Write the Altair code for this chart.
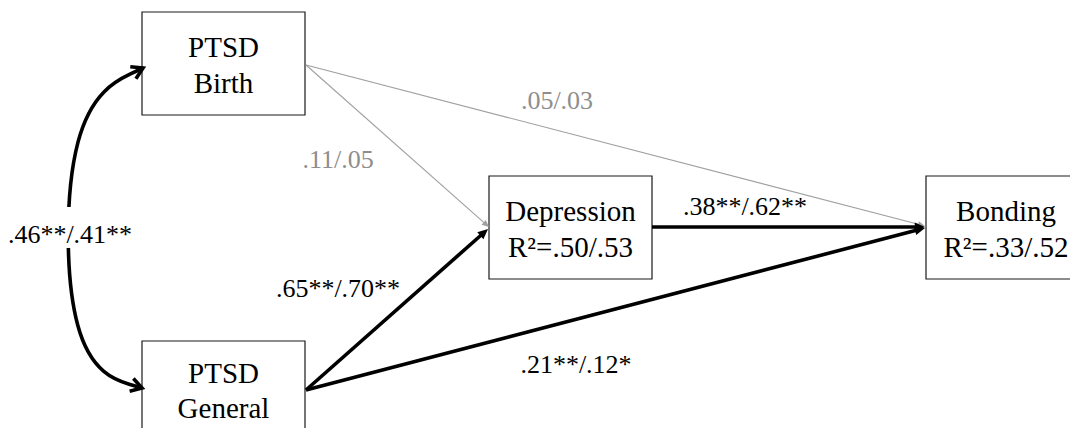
import math
import altair as alt
import pandas as pd

# ---------------- data ----------------
node_names = ["PTSD Birth", "PTSD General", "Depression", "Bonding"]
node_line1 = ["PTSD", "PTSD", "Depression", "Bonding"]
node_line2 = ["Birth", "General", "R²=.50/.53", "R²=.33/.52"]

path_from = ["PTSD Birth", "PTSD Birth", "Depression", "PTSD General", "PTSD General"]
path_to = ["Depression", "Bonding", "Bonding", "Depression", "Bonding"]
path_coef = [".11/.05", ".05/.03", ".38**/.62**", ".65**/.70**", ".21**/.12*"]
path_sig = [False, False, True, True, True]

cov_pair = ["PTSD Birth", "PTSD General"]
cov_coef = ".46**/.41**"

# ---------------- layout (page pixels) ----------------
BOX = {
    "PTSD Birth": (142, 305, 12, 115),
    "PTSD General": (142, 305, 341, 452),
    "Depression": (489, 652, 176, 279),
    "Bonding": (926, 1092, 176, 279),
}
TEXT_X = {"PTSD Birth": 223.5, "PTSD General": 223.5, "Depression": 570.5, "Bonding": 1006}
BASE1 = {"PTSD Birth": 57, "PTSD General": 383, "Depression": 221, "Bonding": 221}
BASE2 = {"PTSD Birth": 93, "PTSD General": 418, "Depression": 257, "Bonding": 257}
OUT_PT = {"PTSD Birth": (306, 65), "PTSD General": (306, 390), "Depression": (652, 227)}
IN_PT = {
    ("PTSD Birth", "Depression"): (489, 227),
    ("PTSD General", "Depression"): (488, 229),
    ("PTSD Birth", "Bonding"): (925, 226),
    ("Depression", "Bonding"): (925, 227),
    ("PTSD General", "Bonding"): (925, 228),
}
LABEL_POS = [(338, 168), (557, 109), (745, 215), (338, 297), (576, 373)]
COV_CTRL = [(143, 68), (65, 105), (65, 365), (142, 388)]
COV_LABEL = (70, 243)
COV_GAP = (45, 95, 207, 248)

FONT = "Liberation Serif"
GRAY_LINE = "#a0a0a0"
GRAY_TEXT = "#8e8e8e"

# ---------------- build tables ----------------
boxes = pd.DataFrame({
    "name": node_names,
    "x0": [BOX[n][0] for n in node_names],
    "x1": [BOX[n][1] for n in node_names],
    "y0": [BOX[n][2] for n in node_names],
    "y1": [BOX[n][3] for n in node_names],
})
texts = pd.DataFrame({
    "t": node_line1 + node_line2,
    "x": [TEXT_X[n] for n in node_names] * 2,
    "y": [BASE1[n] for n in node_names] + [BASE2[n] for n in node_names],
})

rows = []
heads = []
for f, t, c, s, lp in zip(path_from, path_to, path_coef, path_sig, LABEL_POS):
    x0, y0 = OUT_PT[f]
    x1, y1 = IN_PT[(f, t)]
    ang = math.degrees(math.atan2(y1 - y0, x1 - x0))
    L = math.hypot(x1 - x0, y1 - y0)
    back = 6 if s else 4
    ex = x1 - (x1 - x0) / L * back
    ey = y1 - (y1 - y0) / L * back
    rows.append({"x": x0, "y": y0, "x2": ex, "y2": ey, "sig": s,
                 "coef": c, "lx": lp[0], "ly": lp[1]})
    heads.append({"x": x1, "y": y1, "ang": ang % 360, "sig": s})
edges = pd.DataFrame(rows)
heads = pd.DataFrame(heads)

curve = pd.DataFrame({"x": [p[0] for p in COV_CTRL], "y": [p[1] for p in COV_CTRL],
                      "i": list(range(len(COV_CTRL)))})
p0, p1, p2, p3 = COV_CTRL
chev = pd.DataFrame({
    "x": [p0[0], p3[0]], "y": [p0[1], p3[1]],
    "ang": [math.degrees(math.atan2(p0[1] - p1[1], p0[0] - p1[0])) % 360,
            math.degrees(math.atan2(p3[1] - p2[1], p3[0] - p2[0])) % 360],
})
gap = pd.DataFrame({"x0": [COV_GAP[0]], "x1": [COV_GAP[1]], "y0": [COV_GAP[2]], "y1": [COV_GAP[3]]})
covlab = pd.DataFrame({"t": [cov_coef], "x": [COV_LABEL[0]], "y": [COV_LABEL[1]]})

xs = alt.Scale(domain=[8, 1070], nice=False, zero=False)
ys = alt.Scale(domain=[8, 428], reverse=True, nice=False, zero=False)
X = lambda f: alt.X(f, type="quantitative", scale=xs, axis=None)
Y = lambda f: alt.Y(f, type="quantitative", scale=ys, axis=None)

box_layer = alt.Chart(boxes).mark_rect(fill="white", stroke="#1a1a1a", strokeWidth=1.2, clip=True).encode(
    x=X("x0"), x2="x1", y=Y("y0"), y2="y1")
box_text = alt.Chart(texts).mark_text(font=FONT, fontSize=29, color="black", baseline="alphabetic",
                                      align="center").encode(x=X("x"), y=Y("y"), text="t:N")

gray_edges = alt.Chart(edges[~edges.sig]).mark_rule(color=GRAY_LINE, strokeWidth=1.1).encode(
    x=X("x"), y=Y("y"), x2="x2", y2="y2")
black_edges = alt.Chart(edges[edges.sig]).mark_rule(color="black", strokeWidth=3.6).encode(
    x=X("x"), y=Y("y"), x2="x2", y2="y2")

TRI = "M0,0L-1,-0.45L-1,0.45Z"
gray_heads = alt.Chart(heads[~heads.sig]).mark_point(shape=TRI, filled=True, color=GRAY_LINE,
                                                   size=200, opacity=1).encode(
    x=X("x"), y=Y("y"), angle=alt.Angle("ang:Q", scale=None))
black_heads = alt.Chart(heads[heads.sig]).mark_point(shape=TRI, filled=True, color="black",
                                                   size=420, opacity=1).encode(
    x=X("x"), y=Y("y"), angle=alt.Angle("ang:Q", scale=None))

gray_lab = alt.Chart(edges[~edges.sig]).mark_text(font=FONT, fontSize=26, color=GRAY_TEXT,
                                                 baseline="alphabetic", align="center").encode(
    x=X("lx"), y=Y("ly"), text="coef:N")
black_lab = alt.Chart(edges[edges.sig]).mark_text(font=FONT, fontSize=26, color="black",
                                                 baseline="alphabetic", align="center").encode(
    x=X("lx"), y=Y("ly"), text="coef:N")

curve_layer = alt.Chart(curve).mark_line(interpolate="basis", color="black", strokeWidth=3.6).encode(
    x=X("x"), y=Y("y"), order="i:Q")
CHEV = "M-1,-0.6L0,0L-1,0.6"
chev_layer = alt.Chart(chev).mark_point(shape=CHEV, filled=False, color="black", strokeWidth=3.6,
                                        size=480, opacity=1).encode(
    x=X("x"), y=Y("y"), angle=alt.Angle("ang:Q", scale=None))
gap_layer = alt.Chart(gap).mark_rect(fill="white").encode(x=X("x0"), x2="x1", y=Y("y0"), y2="y1")
cov_text = alt.Chart(covlab).mark_text(font=FONT, fontSize=26, color="black", baseline="alphabetic",
                                       align="center").encode(x=X("x"), y=Y("y"), text="t:N")

chart = alt.layer(
    box_layer, box_text,
    gray_edges, black_edges, gray_heads, black_heads,
    gray_lab, black_lab,
    curve_layer, gap_layer, chev_layer, cov_text,
).properties(
    width=1062, height=420, padding=0,
    autosize=alt.AutoSizeParams(type="none"),
    background="white",
).configure_view(stroke=None)

chart.save("out.html", embed_options={"renderer": "svg", "actions": False})
